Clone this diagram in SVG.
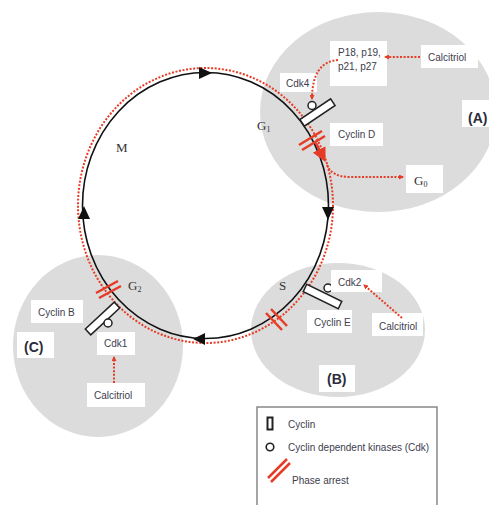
<svg xmlns="http://www.w3.org/2000/svg" width="489" height="505" viewBox="0 0 489 505">
<defs>
<style>
.bg{fill:#dcdcdc}
.box{fill:#fff}
.t{font-family:"Liberation Sans",Arial,sans-serif;font-size:10px;fill:#3d3d4d}
.b{font-family:"Liberation Sans",Arial,sans-serif;font-size:14px;font-weight:bold;fill:#2b2b3b}
.s{font-family:"Liberation Serif","Times New Roman",serif;font-size:13px;fill:#333}
.sub{font-size:8px}
.cyc{fill:#fff;stroke:#222;stroke-width:1.5}
.cdk{fill:#fff;stroke:#222;stroke-width:1.5}
.dot{fill:none;stroke:#e63c26;stroke-width:2;stroke-dasharray:2 1.6}
.arr{stroke:#e63c26;stroke-width:2.5;fill:none}
.blk{fill:#111}
</style>
<marker id="rh" viewBox="0 0 10 10" refX="8" refY="5" markerWidth="5" markerHeight="5" orient="auto" markerUnits="userSpaceOnUse">
<path d="M0,0 L10,5 L0,10 z" fill="#e63c26"/>
</marker>
<marker id="rbig" viewBox="0 0 10 10" refX="6" refY="5" markerWidth="14" markerHeight="14" orient="auto" markerUnits="userSpaceOnUse">
<path d="M0,0 L10,5 L0,10 z" fill="#e63c26"/>
</marker>
</defs>

<g id="region-A">
<ellipse class="bg" cx="378" cy="112" rx="118" ry="100"/>
</g>
<g id="region-B">
<ellipse class="bg" cx="338" cy="330" rx="87" ry="67"/>
</g>
<g id="region-C">
<ellipse class="bg" cx="98" cy="346" rx="85" ry="91"/>
</g>

<g id="cycle">
<ellipse cx="205.5" cy="205.5" rx="123" ry="133" fill="none" stroke="#111" stroke-width="1.6"/>
<ellipse class="dot" cx="205.5" cy="205.5" rx="127.5" ry="137.5"/>
<polygon class="blk" points="199,67 199,79 212,73"/>
<polygon class="blk" points="322,207 334,207 328,220"/>
<polygon class="blk" points="205,333 205,345 193,339"/>
<polygon class="blk" points="78,219 90,219 84,206"/>
</g>

<g id="phase-labels">
<text class="s" x="116" y="152">M</text>
<text class="s" x="257" y="130">G<tspan class="sub" dy="2">1</tspan></text>
<text class="s" x="279" y="290">S</text>
<text class="s" x="128" y="290">G<tspan class="sub" dy="2">2</tspan></text>
</g>

<g id="node-A">
<rect class="box" x="330" y="41" width="57" height="45"/>
<text class="t" x="338" y="56">P18, p19,</text>
<text class="t" x="338" y="70">p21, p27</text>
<rect class="box" x="421" y="45" width="57" height="23"/>
<text class="t" x="428" y="61">Calcitriol</text>
<rect class="box" x="280" y="73" width="37" height="19"/>
<text class="t" x="286" y="87">Cdk4</text>
<rect class="box" x="330" y="123" width="53" height="23"/>
<text class="t" x="338" y="138">Cyclin D</text>
<rect class="box" x="406" y="165" width="37" height="28"/>
<text class="s" x="414" y="185">G<tspan class="sub" dy="2">0</tspan></text>
<rect class="box" x="462" y="100" width="27" height="27"/>
<text class="b" x="468" y="123">(A)</text>
<rect class="cyc" x="-18.5" y="-4" width="37" height="8" transform="translate(317.5,112.5) rotate(-34)"/>
<circle class="cdk" cx="312" cy="105.5" r="4"/>
</g>

<g id="node-B">
<circle class="cdk" cx="328" cy="288" r="4"/>
<rect class="box" x="331" y="270" width="51" height="22"/>
<text class="t" x="338" y="286">Cdk2</text>
<rect class="box" x="307" y="310" width="45" height="23"/>
<text class="t" x="314" y="326">Cyclin E</text>
<rect class="box" x="372" y="313" width="51" height="23"/>
<text class="t" x="379" y="330">Calcitriol</text>
<rect class="box" x="319" y="365" width="36" height="27"/>
<text class="b" x="327" y="384">(B)</text>
<rect class="cyc" x="-19.5" y="-4" width="39" height="8" transform="translate(322.5,296.5) rotate(26)"/>
</g>

<g id="node-C">
<rect class="box" x="31" y="300" width="52" height="23"/>
<text class="t" x="38" y="316">Cyclin B</text>
<rect class="box" x="17" y="332" width="37" height="26"/>
<text class="b" x="24" y="352">(C)</text>
<rect class="box" x="97" y="332" width="38" height="23"/>
<text class="t" x="104" y="347">Cdk1</text>
<rect class="box" x="87" y="383" width="58" height="24"/>
<text class="t" x="94" y="399">Calcitriol</text>
<rect class="cyc" x="-19.8" y="-4" width="39.6" height="8" transform="translate(102.5,318.5) rotate(-43)"/>
<circle class="cdk" cx="108" cy="323" r="4"/>
</g>

<g id="connectors">
<line class="dot" x1="420" y1="57" x2="385" y2="57" marker-end="url(#rh)"/>
<path class="dot" d="M338,60 Q312,62 312,99" marker-end="url(#rh)"/>
<line class="arr" x1="316" y1="143" x2="323" y2="157" marker-end="url(#rbig)"/>
<path class="dot" d="M327,165 Q332,177 350,177 L403,177" marker-end="url(#rh)"/>
<line class="dot" x1="402" y1="318" x2="364" y2="285" marker-end="url(#rh)"/>
<line class="dot" x1="114" y1="383" x2="114" y2="357" marker-end="url(#rh)"/>
</g>

<g id="phase-arrests">
<line class="arr" x1="299" y1="145" x2="322" y2="131"/>
<line class="arr" x1="302" y1="150" x2="325" y2="136"/>
<line class="arr" x1="96" y1="293" x2="118" y2="281"/>
<line class="arr" x1="99" y1="298" x2="121" y2="286"/>
<line class="arr" x1="271" y1="309" x2="287" y2="326"/>
<line class="arr" x1="266" y1="313" x2="282" y2="330"/>
</g>

<g id="legend">
<rect x="257" y="407" width="180" height="105" fill="#fff" stroke="#888" stroke-width="1.5"/>
<rect x="267.5" y="417.5" width="5" height="12" fill="#fff" stroke="#222" stroke-width="2"/>
<text class="t" x="288" y="428">Cyclin</text>
<circle cx="270" cy="447" r="3.8" fill="#fff" stroke="#222" stroke-width="1.6"/>
<text class="t" x="288" y="451">Cyclin dependent kinases (Cdk)</text>
<line class="arr" x1="268" y1="478" x2="287" y2="459"/>
<line class="arr" x1="271" y1="482" x2="290" y2="463"/>
<text class="t" x="292" y="484">Phase arrest</text>
</g>
</svg>
